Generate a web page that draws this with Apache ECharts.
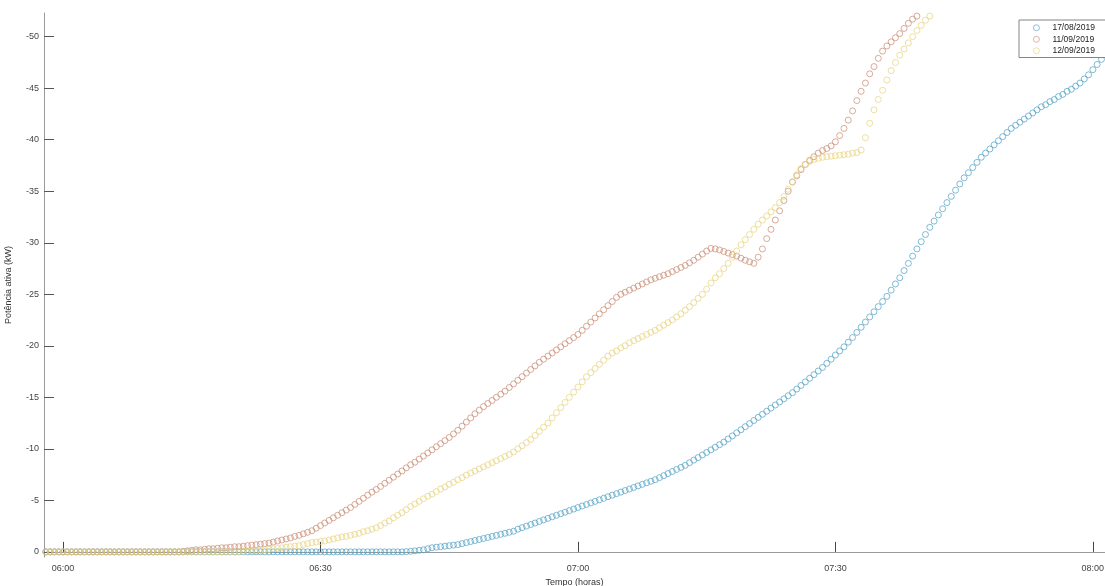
<!DOCTYPE html>
<html>
<head>
<meta charset="utf-8">
<script src="https://cdn.jsdelivr.net/npm/echarts@6/dist/echarts.min.js"></script>
<style>
html,body{margin:0;padding:0;background:#fff;}
#chart{width:1105px;height:586px;}
</style>
</head>
<body>
<div id="chart"></div>
<script>
// Sampling: one reading every 30 s, first reading at 05:58:00
const sampleStart = '05:58:00';
const sampleStepSec = 30;

const seriesNames = ['17/08/2019', '11/09/2019', '12/09/2019'];

// 17/08/2019 (kW), from 05:58:00
const power_17_08 = [
  0,0,0,0,0,0,0,0,0,0,
  0,0,0,0,0,0,0,0,0,0,
  0,0,0,0,0,0,0,0,0,0,
  0,0,0,0,0,0,0,0,0,0,
  0,0,0,0,0,0,0,0,0,0,
  0,0,0,0,0,0,0,0,0,0,
  0,0,0,0,0,0,0,0,0,0,
  0,0,0,0,0,0,0,0,0,0,
  0,0,0,0,-0.02,-0.05,-0.1,-0.15,-0.2,-0.3,
  -0.4,-0.45,-0.5,-0.55,-0.6,-0.65,-0.7,-0.8,-0.9,-1.0,
  -1.1,-1.2,-1.3,-1.4,-1.5,-1.6,-1.7,-1.8,-1.9,-2.0,
  -2.2,-2.35,-2.5,-2.65,-2.8,-2.95,-3.1,-3.25,-3.4,-3.55,
  -3.7,-3.85,-4.0,-4.15,-4.3,-4.45,-4.6,-4.75,-4.9,-5.05,
  -5.2,-5.35,-5.5,-5.65,-5.8,-5.95,-6.1,-6.25,-6.4,-6.55,
  -6.7,-6.85,-7.0,-7.2,-7.4,-7.6,-7.8,-8.0,-8.2,-8.4,
  -8.65,-8.9,-9.15,-9.4,-9.65,-9.9,-10.15,-10.4,-10.65,-10.95,
  -11.25,-11.55,-11.85,-12.15,-12.45,-12.75,-13.05,-13.35,-13.65,-13.95,
  -14.25,-14.55,-14.85,-15.15,-15.45,-15.8,-16.15,-16.5,-16.85,-17.2,
  -17.55,-17.9,-18.3,-18.7,-19.1,-19.5,-19.9,-20.35,-20.8,-21.3,
  -21.8,-22.3,-22.8,-23.3,-23.8,-24.3,-24.8,-25.4,-26.0,-26.6,
  -27.3,-28.0,-28.7,-29.4,-30.1,-30.8,-31.5,-32.1,-32.7,-33.3,
  -33.9,-34.5,-35.1,-35.7,-36.3,-36.8,-37.3,-37.8,-38.3,-38.7,
  -39.1,-39.5,-39.9,-40.3,-40.7,-41.1,-41.4,-41.7,-42.0,-42.3,
  -42.6,-42.9,-43.2,-43.4,-43.7,-43.9,-44.2,-44.4,-44.7,-44.9,
  -45.2,-45.5,-45.9,-46.3,-46.8,-47.3,-47.8
];

// 11/09/2019 (kW), from 05:58:00
const power_11_09 = [
  0,0,0,0,0,0,0,0,0,0,
  0,0,0,0,0,0,0,0,0,0,
  0,0,0,0,0,0,0,0,0,0,
  0,0,-0.05,-0.1,-0.15,-0.2,-0.2,-0.25,-0.3,-0.3,
  -0.35,-0.4,-0.4,-0.45,-0.5,-0.5,-0.55,-0.6,-0.65,-0.7,
  -0.75,-0.8,-0.85,-0.95,-1.05,-1.15,-1.25,-1.35,-1.5,-1.6,
  -1.75,-1.9,-2.05,-2.3,-2.55,-2.8,-3.05,-3.3,-3.55,-3.8,
  -4.05,-4.3,-4.6,-4.9,-5.2,-5.5,-5.8,-6.05,-6.35,-6.65,
  -6.95,-7.25,-7.55,-7.85,-8.15,-8.45,-8.7,-9.0,-9.3,-9.6,
  -9.9,-10.2,-10.5,-10.8,-11.1,-11.45,-11.8,-12.2,-12.6,-13.0,
  -13.4,-13.75,-14.1,-14.4,-14.7,-15.0,-15.3,-15.6,-15.95,-16.3,
  -16.65,-17.0,-17.35,-17.7,-18.05,-18.4,-18.7,-19.0,-19.3,-19.6,
  -19.9,-20.2,-20.5,-20.8,-21.1,-21.5,-21.9,-22.3,-22.7,-23.1,
  -23.5,-23.9,-24.3,-24.7,-25.0,-25.2,-25.4,-25.6,-25.8,-26.0,
  -26.2,-26.4,-26.55,-26.7,-26.85,-27.0,-27.2,-27.4,-27.6,-27.8,
  -28.05,-28.3,-28.6,-28.9,-29.2,-29.45,-29.4,-29.3,-29.15,-29.0,
  -28.85,-28.7,-28.5,-28.3,-28.15,-28.0,-28.6,-29.4,-30.4,-31.3,
  -32.2,-33.1,-34.1,-35.0,-35.9,-36.5,-37.1,-37.6,-38.0,-38.35,
  -38.7,-38.95,-39.15,-39.4,-39.8,-40.4,-41.1,-41.9,-42.8,-43.8,
  -44.7,-45.5,-46.4,-47.1,-47.9,-48.6,-49.1,-49.5,-49.9,-50.3,
  -50.8,-51.3,-51.7,-52.0
];

// 12/09/2019 (kW), from 05:58:00
const power_12_09 = [
  0,0,0,0,0,0,0,0,0,0,
  0,0,0,0,0,0,0,0,0,0,
  0,0,0,0,0,0,0,0,0,0,
  0,0,0,0,0,0,0,0,0,0,
  0,0,0,0,0,-0.02,-0.05,-0.08,-0.1,-0.12,
  -0.15,-0.2,-0.25,-0.3,-0.35,-0.4,-0.45,-0.5,-0.55,-0.6,
  -0.7,-0.8,-0.9,-0.95,-1.0,-1.05,-1.15,-1.25,-1.35,-1.45,
  -1.5,-1.6,-1.7,-1.8,-1.95,-2.05,-2.2,-2.35,-2.55,-2.8,
  -3.0,-3.3,-3.55,-3.8,-4.1,-4.4,-4.65,-4.9,-5.15,-5.4,
  -5.6,-5.85,-6.1,-6.3,-6.55,-6.75,-7.0,-7.2,-7.45,-7.65,
  -7.85,-8.05,-8.25,-8.45,-8.65,-8.85,-9.05,-9.25,-9.45,-9.7,
  -10.0,-10.3,-10.6,-10.9,-11.3,-11.7,-12.1,-12.5,-13.0,-13.5,
  -14.0,-14.5,-15.0,-15.5,-16.0,-16.5,-17.0,-17.4,-17.8,-18.2,
  -18.6,-19.0,-19.3,-19.5,-19.8,-20.0,-20.3,-20.5,-20.7,-20.9,
  -21.1,-21.3,-21.5,-21.75,-22.0,-22.25,-22.5,-22.8,-23.1,-23.45,
  -23.8,-24.2,-24.6,-25.0,-25.5,-26.1,-26.6,-27.0,-27.5,-28.0,
  -28.6,-29.2,-29.8,-30.3,-30.8,-31.3,-31.8,-32.2,-32.6,-33.0,
  -33.4,-33.9,-34.5,-35.2,-35.9,-36.6,-37.2,-37.6,-37.9,-38.1,
  -38.2,-38.3,-38.35,-38.4,-38.45,-38.5,-38.55,-38.6,-38.7,-38.75,
  -39.0,-40.2,-41.6,-42.9,-43.9,-44.8,-45.8,-46.7,-47.5,-48.2,
  -48.8,-49.4,-50.0,-50.6,-51.1,-51.6,-52.0
];

const xTickLabels = ['06:00', '06:30', '07:00', '07:30', '08:00'];
const yTickValues = [0, -5, -10, -15, -20, -25, -30, -35, -40, -45, -50];
const seriesColors = ['#4fa0c4', '#c98b72', '#e7d27c'];

function hmsToMin(s) {
  const p = s.split(':').map(Number);
  return p[0] * 60 + p[1] + (p[2] || 0) / 60;
}
function minToHM(m) {
  const h = Math.floor(m / 60), mm = Math.round(m - h * 60);
  return String(h).padStart(2, '0') + ':' + String(mm).padStart(2, '0');
}
const t0 = hmsToMin(sampleStart);
const step = sampleStepSec / 60;
function toPoints(arr) {
  return arr.map((v, i) => [t0 + i * step, v]);
}
const allSeries = [power_17_08, power_11_09, power_12_09];
const xTickValues = xTickLabels.map(hmsToMin);

const font = 'Liberation Sans, Arial, sans-serif';
const chart = echarts.init(document.getElementById('chart'), null, {renderer: 'canvas'});
chart.setOption({
  animation: false,
  backgroundColor: '#fff',
  grid: {left: 44, right: 0, top: 13, bottom: 29, containLabel: false, outerBoundsMode: 'none'},
  legend: {
    orient: 'vertical',
    left: 1019, top: 20,
    padding: [2, 20, 1, 14],
    itemWidth: 22, itemHeight: 6, itemGap: 0,
    backgroundColor: '#fff',
    borderColor: '#666', borderWidth: 0.8, borderRadius: 0,
    itemStyle: {borderWidth: 0.8},
    textStyle: {fontFamily: font, fontSize: 8.5, lineHeight: 11.5, color: '#222'},
    data: seriesNames
  },
  xAxis: {
    type: 'value',
    min: hmsToMin('05:57:47'),
    max: hmsToMin('08:01:25'),
    name: 'Tempo (horas)',
    nameLocation: 'middle',
    nameGap: 19,
    nameTextStyle: {fontFamily: font, fontSize: 9, color: '#333'},
    axisLine: {show: true, lineStyle: {color: '#9a9a9a', width: 1}},
    axisTick: {show: true, inside: true, length: 10, customValues: xTickValues, lineStyle: {color: '#444', width: 1}},
    axisLabel: {show: true, customValues: xTickValues, margin: 7, fontFamily: font, fontSize: 9, color: '#444', formatter: v => minToHM(v)},
    splitLine: {show: false}
  },
  yAxis: {
    type: 'value',
    inverse: true,
    min: -52.3,
    max: 0.5,
    name: 'Potência ativa (kW)',
    nameLocation: 'middle',
    nameGap: 31,
    nameTextStyle: {fontFamily: font, fontSize: 9, color: '#333'},
    axisLine: {show: true, lineStyle: {color: '#9a9a9a', width: 1}},
    axisTick: {show: true, inside: true, length: 10, customValues: yTickValues, lineStyle: {color: '#555', width: 1}},
    axisLabel: {show: true, customValues: yTickValues, margin: 5, fontFamily: font, fontSize: 9, color: '#444'},
    splitLine: {show: false}
  },
  series: allSeries.map((arr, k) => ({
    name: seriesNames[k],
    type: 'scatter',
    symbol: 'circle',
    symbolSize: 6,
    clip: true,
    itemStyle: {color: 'rgba(255,255,255,0)', borderColor: seriesColors[k], borderWidth: 0.9},
    emphasis: {disabled: true},
    data: toPoints(arr)
  }))
});
</script>
</body>
</html>
